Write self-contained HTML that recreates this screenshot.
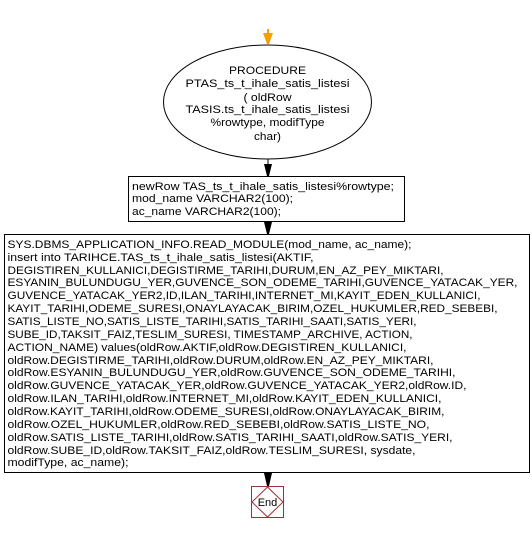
<!DOCTYPE html>
<html><head><style>
body{margin:0;background:#fff;width:532px;height:548px;overflow:hidden}
text{font-family:"Liberation Sans",Arial,sans-serif;font-size:11px;fill:#000}
</style></head><body>
<svg width="532" height="548" style="position:absolute;left:0;top:0">
<line x1="268" y1="29" x2="268" y2="37" stroke="#f5a000" stroke-width="2"/>
<polygon points="263,33 273,33 269,44 267,44" fill="#f5a000"/>
<ellipse cx="267.5" cy="102" rx="104" ry="57" fill="#fff" stroke="#000"/>
<line x1="268" y1="159" x2="268" y2="176" stroke="#000"/>
<polygon points="264,164 272,164 269,176 267,176" fill="#000"/>
<rect x="128.5" y="176.5" width="276" height="45" fill="#fff" stroke="#000"/>
<line x1="268" y1="221" x2="268" y2="234" stroke="#000"/>
<polygon points="264,222 272,222 269,234 267,234" fill="#000"/>
<rect x="4.5" y="234.5" width="525" height="238" fill="#fff" stroke="#000"/>
<line x1="268" y1="472" x2="268" y2="486" stroke="#000"/>
<polygon points="264,473 272,473 269,486 267,486" fill="#000"/>
<rect x="251.5" y="486.5" width="32" height="31" fill="#fff" stroke="#a03030"/>
<polygon points="267.5,487 283,502 267.5,517 252,502" fill="none" stroke="#a03030"/>
<g text-anchor="middle">
<text x="267.5" y="74" textLength="77" lengthAdjust="spacingAndGlyphs">PROCEDURE</text>
<text x="267.5" y="87" textLength="164" lengthAdjust="spacingAndGlyphs">PTAS_ts_t_ihale_satis_listesi</text>
<text x="267.5" y="101" textLength="48" lengthAdjust="spacingAndGlyphs">( oldRow</text>
<text x="267.5" y="113" textLength="164" lengthAdjust="spacingAndGlyphs">TASIS.ts_t_ihale_satis_listesi</text>
<text x="267.5" y="126" textLength="114" lengthAdjust="spacingAndGlyphs">%rowtype, modifType</text>
<text x="267.5" y="140" textLength="27" lengthAdjust="spacingAndGlyphs">char)</text>
<text x="267.5" y="506" font-size="12">End</text>
</g>
<g>
<text x="132" y="190" textLength="262" lengthAdjust="spacingAndGlyphs">newRow TAS_ts_t_ihale_satis_listesi%rowtype;</text>
<text x="132" y="202" textLength="161" lengthAdjust="spacingAndGlyphs">mod_name VARCHAR2(100);</text>
<text x="132" y="215" textLength="149" lengthAdjust="spacingAndGlyphs">ac_name VARCHAR2(100);</text>
</g>
<g>
<text x="7.5" y="248" textLength="404" lengthAdjust="spacingAndGlyphs">SYS.DBMS_APPLICATION_INFO.READ_MODULE(mod_name, ac_name);</text>
<text x="7.5" y="261" textLength="306" lengthAdjust="spacingAndGlyphs">insert into TARIHCE.TAS_ts_t_ihale_satis_listesi(AKTIF,</text>
<text x="7.5" y="274" textLength="436" lengthAdjust="spacingAndGlyphs">DEGISTIREN_KULLANICI,DEGISTIRME_TARIHI,DURUM,EN_AZ_PEY_MIKTARI,</text>
<text x="7.5" y="286" textLength="510" lengthAdjust="spacingAndGlyphs">ESYANIN_BULUNDUGU_YER,GUVENCE_SON_ODEME_TARIHI,GUVENCE_YATACAK_YER,</text>
<text x="7.5" y="299" textLength="473" lengthAdjust="spacingAndGlyphs">GUVENCE_YATACAK_YER2,ID,ILAN_TARIHI,INTERNET_MI,KAYIT_EDEN_KULLANICI,</text>
<text x="7.5" y="312" textLength="490" lengthAdjust="spacingAndGlyphs">KAYIT_TARIHI,ODEME_SURESI,ONAYLAYACAK_BIRIM,OZEL_HUKUMLER,RED_SEBEBI,</text>
<text x="7.5" y="325" textLength="409" lengthAdjust="spacingAndGlyphs">SATIS_LISTE_NO,SATIS_LISTE_TARIHI,SATIS_TARIHI_SAATI,SATIS_YERI,</text>
<text x="7.5" y="338" textLength="405" lengthAdjust="spacingAndGlyphs">SUBE_ID,TAKSIT_FAIZ,TESLIM_SURESI, TIMESTAMP_ARCHIVE, ACTION,</text>
<text x="7.5" y="351" textLength="399" lengthAdjust="spacingAndGlyphs">ACTION_NAME) values(oldRow.AKTIF,oldRow.DEGISTIREN_KULLANICI,</text>
<text x="7.5" y="364" textLength="426" lengthAdjust="spacingAndGlyphs">oldRow.DEGISTIRME_TARIHI,oldRow.DURUM,oldRow.EN_AZ_PEY_MIKTARI,</text>
<text x="7.5" y="376" textLength="448" lengthAdjust="spacingAndGlyphs">oldRow.ESYANIN_BULUNDUGU_YER,oldRow.GUVENCE_SON_ODEME_TARIHI,</text>
<text x="7.5" y="389" textLength="459" lengthAdjust="spacingAndGlyphs">oldRow.GUVENCE_YATACAK_YER,oldRow.GUVENCE_YATACAK_YER2,oldRow.ID,</text>
<text x="7.5" y="402" textLength="434" lengthAdjust="spacingAndGlyphs">oldRow.ILAN_TARIHI,oldRow.INTERNET_MI,oldRow.KAYIT_EDEN_KULLANICI,</text>
<text x="7.5" y="415" textLength="437" lengthAdjust="spacingAndGlyphs">oldRow.KAYIT_TARIHI,oldRow.ODEME_SURESI,oldRow.ONAYLAYACAK_BIRIM,</text>
<text x="7.5" y="428" textLength="422" lengthAdjust="spacingAndGlyphs">oldRow.OZEL_HUKUMLER,oldRow.RED_SEBEBI,oldRow.SATIS_LISTE_NO,</text>
<text x="7.5" y="441" textLength="445" lengthAdjust="spacingAndGlyphs">oldRow.SATIS_LISTE_TARIHI,oldRow.SATIS_TARIHI_SAATI,oldRow.SATIS_YERI,</text>
<text x="7.5" y="454" textLength="408" lengthAdjust="spacingAndGlyphs">oldRow.SUBE_ID,oldRow.TAKSIT_FAIZ,oldRow.TESLIM_SURESI, sysdate,</text>
<text x="7.5" y="466" textLength="121" lengthAdjust="spacingAndGlyphs">modifType, ac_name);</text>
</g>
</svg>
</body></html>
